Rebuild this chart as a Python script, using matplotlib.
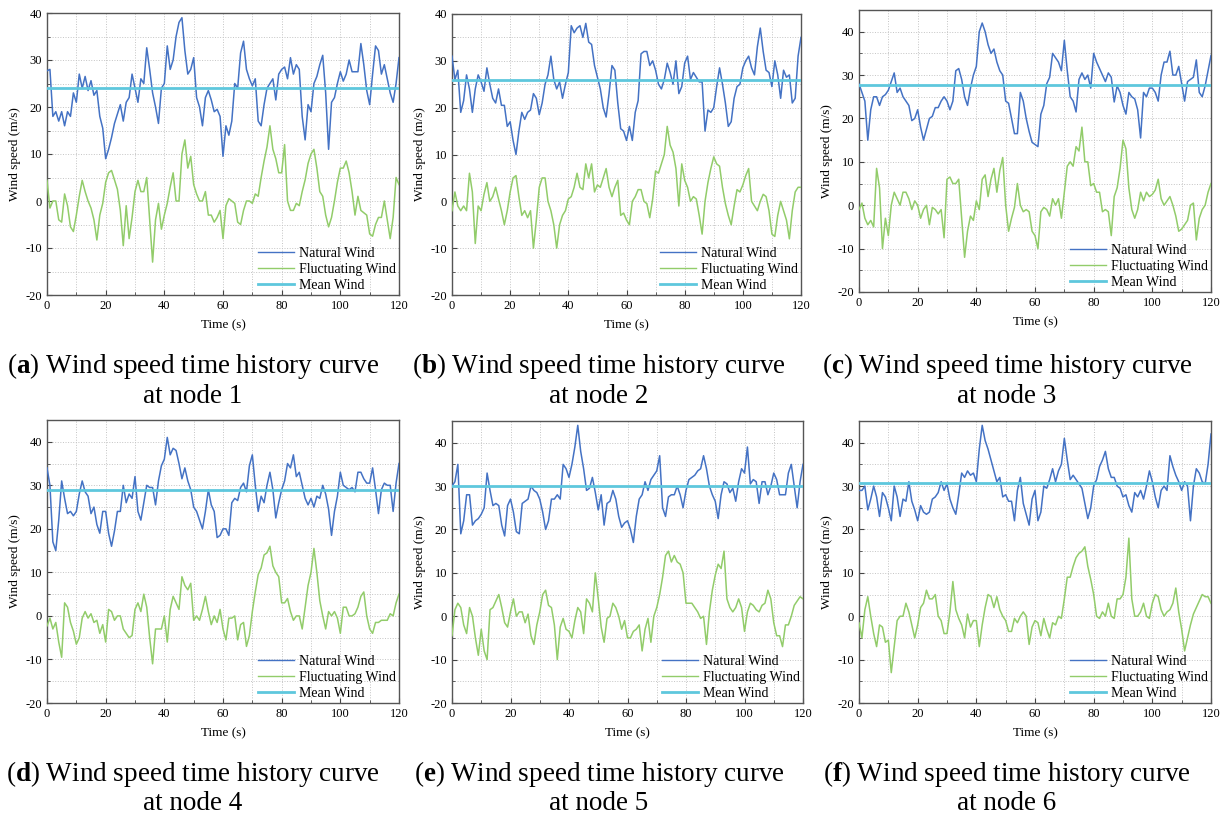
import numpy as np
import matplotlib
matplotlib.use("Agg")
import matplotlib.pyplot as plt
from matplotlib.ticker import MultipleLocator
from matplotlib.lines import Line2D

plt.rcParams['font.family'] = ['Liberation Serif', 'DejaVu Serif']
plt.rcParams['mathtext.fontset'] = 'custom'
plt.rcParams['mathtext.rm'] = 'Liberation Serif'
plt.rcParams['mathtext.bf'] = 'Liberation Serif:bold'
plt.rcParams['axes.unicode_minus'] = False

# time axis, 1 s steps
t = np.arange(0, 121)

# mean wind at each node (m/s)
mean_wind = [24, 26, 27.7, 29, 30, 30.8]

# natural wind
nat_a = [27.7, 28, 18, 19, 17, 19, 16, 19, 18, 23, 21,
         27, 24, 26.5, 23.5, 25.6, 22.5, 23.5, 18, 15.5, 9,
         11, 13.5, 16.5, 18.5, 20.5, 17, 21, 22, 27, 24,
         21, 26, 25, 32.6, 28, 23, 20, 16.5, 24, 25,
         33, 28, 30, 35, 38, 39, 32, 27, 28, 30.5,
         22, 20, 16, 22, 23.5, 21.5, 19, 19.5, 18, 9.5,
         16, 14, 17, 25, 24, 31.5, 34, 28, 26, 24.5,
         26, 17, 16, 20.5, 24, 25, 26, 21.5, 27, 28,
         28.5, 26, 30.5, 27, 29, 28, 18, 13, 20.5, 19,
         25, 26.5, 29, 31, 23, 11, 21, 22, 25, 27.5,
         25.5, 27, 30, 27.5, 27.5, 27.5, 33.5, 29, 23.5, 20.5,
         27, 33, 32, 27, 29, 26, 23, 21, 25, 30.5]
nat_b = [31, 26, 28, 19, 21.5, 27, 24, 19, 24, 27, 25.5,
         23.5, 28.5, 25, 22, 21, 24, 20.5, 20.5, 16, 17,
         13, 10, 15, 19, 17.5, 19, 19.5, 23, 22, 18.5,
         21, 25, 27, 31, 26, 24, 25.5, 22, 25, 27.5,
         37.5, 36, 37, 37.5, 35, 38, 34, 33.5, 29, 26.5,
         24, 20, 18, 23, 29, 28, 21, 15.5, 15, 13,
         16, 13, 19, 21.5, 31.5, 32, 32, 29, 30, 28,
         25, 24, 26, 29.5, 27.5, 25, 30, 23, 24.5, 29.5,
         31, 26, 27.5, 26.5, 25.5, 25.5, 15, 19.5, 19, 20,
         24.5, 28.5, 25, 21, 16, 17, 22, 24.5, 25, 28.5,
         30, 31, 28.5, 27, 33, 37, 32, 28, 27.5, 24.5,
         30, 27, 22, 28, 26.5, 27, 21, 22, 31, 35]
nat_c = [28, 26, 24, 15, 22, 25, 25, 23, 25, 25.5, 26.5,
         28.5, 30.5, 26, 27, 25, 24, 23, 19.5, 20, 22,
         18, 15, 17.5, 20, 20.5, 22.5, 22.5, 24, 25, 24,
         22, 24, 31, 31.5, 29, 25, 23, 27, 30, 32,
         40, 42, 40, 37, 35, 36, 33, 31, 30, 24,
         23.5, 20, 16.5, 16.5, 26, 24, 20, 17, 14.5, 14,
         13.5, 21, 23, 28, 29.5, 35, 34, 33, 31, 38,
         31, 25, 24, 21.5, 29, 30.5, 29, 30, 27, 35,
         33, 31.5, 30, 28.5, 30.5, 29.5, 23.8, 27.5, 26, 23,
         21, 26, 25, 24.5, 22, 15.5, 26, 25, 27, 27,
         26, 24, 30, 33, 33, 35.5, 30, 30, 32, 28,
         24, 28.5, 29, 29.5, 33.5, 26, 25, 27.5, 31, 34.5]
nat_d = [34, 30, 17, 15, 22, 31, 27, 23.5, 24, 23, 24,
         28, 31, 28.5, 27.5, 23.5, 25, 21, 19, 24, 24,
         19, 16, 19.5, 24, 24, 30, 26, 28, 27, 32,
         24, 22, 26, 30, 29.5, 29.5, 25.5, 31, 34.5, 36,
         41, 37, 38.5, 38, 35, 31.5, 34, 31, 29, 25,
         24, 22, 20, 24, 29, 25.5, 24, 18, 18.5, 20,
         20, 18.5, 26, 27, 26.5, 29.5, 30.5, 28.5, 34.5, 37,
         30, 24, 27.5, 26, 30, 33, 29, 22.5, 26, 29,
         31, 35, 34, 37, 32, 33, 30, 27, 25.5, 27,
         25, 27.5, 27, 30, 28, 24.5, 18.5, 24, 27.5, 33,
         30, 29.5, 29, 29.5, 28.5, 33, 33, 31.5, 30.5, 30.5,
         34, 29, 23.5, 29, 30.5, 30, 30, 24, 30.5, 35]
nat_e = [30, 31, 35, 19, 22, 28, 28, 21, 22, 22.5, 23.5,
         25, 33, 29, 25.5, 26, 25.5, 21, 18.5, 25.5, 27,
         24, 19.5, 19, 26, 26.5, 27, 30, 29, 28.5, 27,
         24, 20, 22, 27, 27, 28, 27, 35, 34, 32,
         35, 39, 44, 38, 34, 29, 29.5, 32, 28.5, 24.5,
         28, 21, 26, 26.5, 29, 27, 23, 20.5, 21.5, 22,
         20, 17, 23, 27, 28, 31, 29, 31.5, 32.5, 33.5,
         37, 25, 23, 27.5, 28, 28, 30, 28, 25, 29,
         31.5, 32, 32.5, 33.5, 34, 37, 34, 30, 28, 26.5,
         22.5, 28, 31, 30.5, 28.5, 29.5, 26.5, 31, 34, 33,
         39, 30.5, 31.5, 31, 26, 31, 31, 28, 30, 33,
         31.5, 28, 28, 28, 33, 35, 30, 25, 31, 35]
nat_f = [29, 29, 30, 24.5, 27, 30, 27.5, 23, 28.5, 27.5, 25,
         22, 30, 27.5, 23, 27, 26.5, 31, 26.5, 24.5, 22,
         25.5, 24, 23.5, 24, 27, 27.5, 28.5, 31, 29, 30.5,
         27, 25, 23.5, 28, 33, 32, 33.5, 32.5, 33, 31,
         38.5, 44, 40.5, 38.5, 36, 33.5, 31, 32, 27.5, 28,
         26.5, 26.5, 22, 29, 32, 26, 23.5, 21, 27, 29,
         22, 24, 30, 29.5, 31.5, 34, 31, 33.5, 35, 41,
         36, 31.5, 32.5, 31.5, 30.5, 29.5, 26, 22.5, 25, 30,
         31.5, 34.5, 36, 38, 34, 32, 32, 30, 29.5, 27.5,
         28, 25.5, 24, 28.5, 27.5, 29, 27, 30, 33.5, 31,
         27.5, 25, 29, 30, 29, 37, 34.5, 32.5, 31, 29,
         31, 30, 22, 30, 34, 33, 31, 30.5, 35, 42]

# fluctuating wind
flu_a = [4.4, -1.5, 0, 0, -4, -4.5, 1.5, -1, -5.5, -6.5, -3,
         1, 4.4, 2, 0, -1.5, -4, -8.3, -3, -0.5, 4,
         6, 6.5, 4.5, 2.5, -2, -9.5, -1, -8, -3.5, 2,
         4.4, 2, 2, 5, -4, -13, -4, -0.5, -6, -3,
         -0.5, 3, 6, 0, 0, 10, 13, 7, 9.5, 3.5,
         1.5, 0, 0, 2, -3, -3, -4.5, -3.5, -2, -8,
         -1, 0.5, 0, -0.5, -4.5, -5, -2, 0, 0, -0.5,
         1.5, 1, 5, 8.5, 11.5, 16, 11, 9, 6, 6,
         12, 0, -2, -2, -0.5, -1, 2, 4.5, 8, 10,
         11, 7, 2, 1, -3, -5.5, -3.5, 0, 4, 7,
         7, 8.5, 6, 2, -3, 1, -2, -2.5, -3, -7,
         -7.5, -5, -3.5, -3.5, 0, -4, -8, -3.5, 5, 3.5]
flu_b = [-2, 2, -1, -2, -1, -2, 6, 2, -9, -1, -2,
         1.5, 4, 0, 1, 3, 0.5, -2, -5, -2, 2,
         5, 5.5, 1, -3, -2, -3.5, -2, -10, -4, 3,
         5, 5, 0, -2, -5, -10, -5, -3, -2, 0.5,
         1, 3, 6, 3, 2.5, 8, 5, 8, 2, 3.5,
         3, 5, 7, 3, 1, 3, 4.5, -3, -2.5, -4,
         -5, 0, 1, 2.5, 2.5, 0, -0.5, -3.5, 0.5, 6.5,
         6, 8, 10, 16, 12, 10.5, 7, -1, 8, 4.5,
         3, 0, 1, 0.5, -3, -7, 0, 4, 7, 9.5,
         8, 7.5, 3, -0.5, -3, -5, -1, 2.5, 2, 3.5,
         5.5, 7, 0, -1, -2, 0, 1.5, 1, -2, -7,
         -7.5, -3, 0, -2, -4, -8, -2, 2, 3, 3]
flu_c = [-1, 0.5, -3, -4.5, -3.5, -5, 8.5, 4, -10, -3, -7,
         0, 3, 1.5, 0, 3, 3, 1.5, -1, 1, 0,
         -3, -1, 0, -4.5, -0.5, -1, -2, -1, -7.5, 6,
         6.5, 5, 5, 6, -3, -12, -6, -2.5, -3.5, 1,
         -1, 6, 7, 2, 6, 8.5, 3, 8, 11, 0,
         -6, -3, -0.5, 5, 0, -1.5, -1, -1.5, -6, -7,
         -10, -1.5, -0.5, -1, -2.5, 1.5, 0, 1.5, -3, 3,
         9, 10, 9, 13.5, 12.5, 18, 10, 10, 4.5, 5,
         3, 3, -1.5, -1, -1.5, -7, 2, 4, 8.5, 15,
         13, 4, -1, -3, -1, 3, 1, 3, 2, 2.5,
         3.5, 6, 1.5, 0, 1, 2, 0, -2.5, -6, -5.5,
         -4.5, -3.5, 0, 0.5, -8, -3, -1, 0, 3, 5]
flu_d = [-2.3, -0.5, -3, -1.5, -6, -9.5, 3, 2, -1.5, -3.5, -6.5,
         -5, -0.5, 1, -0.5, 0.5, -1.5, -1, -4, -2, -6,
         1.5, 1, -1, 0, 0, -3, -4, -5, -4.5, 1.5,
         3, 1, 5, 2, -5, -11, -3, -3, -3, 0,
         -6, 1.5, 4.5, 3, 1.5, 9, 7, 6, 7.5, -1,
         0, -1, 1.5, 4.5, 1, -2, 0, -1.5, 1.5, -3,
         -5.5, -0.5, -0.5, 0, -5.5, -2, -1.5, -7, -4.5, 1,
         5.5, 9.5, 11, 14, 14.5, 16, 11.5, 10, 9, 3,
         3, 4, 1, -1, 0, 0, -3, 2, 7, 10,
         15.5, 10, 3.5, 0, -3, 1, 0, 1, -0.5, -4,
         2, 2, 0, 0, 0.5, 2, 4.5, 5.5, 0, -3,
         -4, -1.5, -1.5, -1, -1, -1, 0.5, 0, 3, 5]
flu_e = [-4.5, 1.5, 3, 2, -2, -4, 2, 0, -5, -9, -3,
         -8, -10, 1.5, 2, 3.5, 5, 2, -1.5, -2.5, 1,
         4, 0, 1, 1, -1.5, 0.5, -4.5, -6.5, -2, 1,
         5, 6, 2.5, 2, -2, -10, -2.5, -0.5, -3, -3.5,
         -5, -1, 2, 1, -4, 4, 3, 1, 10, 4,
         -2.5, -6, -0.5, 0, 3, 2, 0, -3, -1, -5,
         -5, -3.5, -3, -2, -8, -3, -0.5, -6, 0, 2,
         5, 9, 14, 15, 12.5, 14, 12.5, 12, 10, 3,
         3, 3, 2, 1, -0.5, 0, -6.5, 1, 6, 9.5,
         12, 11, 15, 4, 2, 1, 2, 4, 2, -3.5,
         1, 3, 2.5, 1.5, 1, 2.5, 3, 6, 4, -1.5,
         -4.5, -4.5, -7, -2, -2, 0, 2.5, 3.5, 4.5, 4]
flu_f = [-1.5, -5, 1.5, 4.5, 0, -4, -7, -2, -2.5, -6, -5.5,
         -13, -7, -1, 0, 0, 3, 1, -2, -5, -2,
         2, 3, 6, 4, 4, 5, 0, -1, -4, -4,
         1, 8, 1.5, -0.5, -2, -5, 0.5, -2.5, -1, -1,
         -7, -2, 2, 5, 4.5, 2, 4.5, 1.5, 0, -1,
         -3.5, -3.5, -0.5, -1.5, 0, 1, 0, -6.5, -2.5, -1,
         -1.5, -4.5, -0.5, -3, -5, -1.5, -2, 0, -0.5, 4,
         9, 9, 11.5, 13.5, 14.5, 15, 16, 11.5, 8.5, 5,
         0, -0.5, 1, 0, 3, 0, -0.5, 4, 4, 5,
         9, 18, 4, 0, 0, 1, 3, 0, -0.5, 3,
         5, 4.5, 1.5, 0, 1, 1.5, 3, 6.5, 1, -3,
         -8, -5, -2, 0.5, 2, 3.5, 5, 4.5, 4.5, 3]

natural = [nat_a, nat_b, nat_c, nat_d, nat_e, nat_f]
fluct = [flu_a, flu_b, flu_c, flu_d, flu_e, flu_f]
letters = ['a', 'b', 'c', 'd', 'e', 'f']
y_tops = [40, 40, 45, 45, 45, 45]

c_nat = '#4472C4'
c_flu = '#92CC6A'
c_mean = '#5EC7DD'

W, H = 1226, 819
fig = plt.figure(figsize=(W / 100, H / 100), dpi=100)

# panel boxes in pixels: left, top, right, bottom
boxes = [(47, 13, 399, 295), (452, 14, 801, 295), (859, 10, 1211, 292),
         (47, 420, 399, 703), (452, 421, 803, 703), (859, 421, 1211, 703)]
cap_x = [193, 599, 1007, 193, 599, 1007]

for i in range(6):
    l, tp, r, b = boxes[i]
    ax = fig.add_axes([l / W, 1 - b / H, (r - l) / W, (b - tp) / H])
    ax.plot(t, natural[i], color=c_nat, lw=1.1, zorder=3)
    ax.plot(t, fluct[i], color=c_flu, lw=1.1, zorder=3)
    ax.axhline(mean_wind[i], color=c_mean, lw=2.0, zorder=4)

    ax.set_xlim(0, 120)
    ax.set_ylim(-20, y_tops[i])
    ax.xaxis.set_major_locator(MultipleLocator(20))
    ax.xaxis.set_minor_locator(MultipleLocator(10))
    ax.yaxis.set_major_locator(MultipleLocator(10))
    ax.yaxis.set_minor_locator(MultipleLocator(5))
    ax.tick_params(which='both', direction='in', labelsize=9, color='#444444')
    ax.tick_params(which='major', length=3.5)
    ax.tick_params(which='minor', length=2)
    ax.grid(True, which='both', linestyle=':', color='#c4c4c4', linewidth=0.7)
    for s in ax.spines.values():
        s.set_color('#555555')
        s.set_linewidth(1.0)
    ax.set_xlabel('Time (s)', fontsize=9.5, labelpad=5)
    ax.set_ylabel('Wind speed (m/s)', fontsize=9.5, labelpad=3)

    handles = [Line2D([], [], color=c_nat, lw=1.0),
               Line2D([], [], color=c_flu, lw=1.0),
               Line2D([], [], color=c_mean, lw=2.0)]
    ax.legend(handles, ['Natural Wind', 'Fluctuating Wind', 'Mean Wind'],
              loc='lower right', frameon=False, fontsize=10,
              borderaxespad=0.15, borderpad=0.1, labelspacing=0.2,
              handlelength=2.6, handletextpad=0.3)

    row_y = 366 if i < 3 else 774
    fig.text(cap_x[i] / W, 1 - row_y / H,
             r'($\mathbf{' + letters[i] + r'}$) Wind speed time history curve',
             ha='center', va='center', fontsize=19.5)
    fig.text(cap_x[i] / W, 1 - (row_y + 30) / H, 'at node ' + str(i + 1),
             ha='center', va='center', fontsize=19.5)

fig.savefig('out.png', dpi=100)
